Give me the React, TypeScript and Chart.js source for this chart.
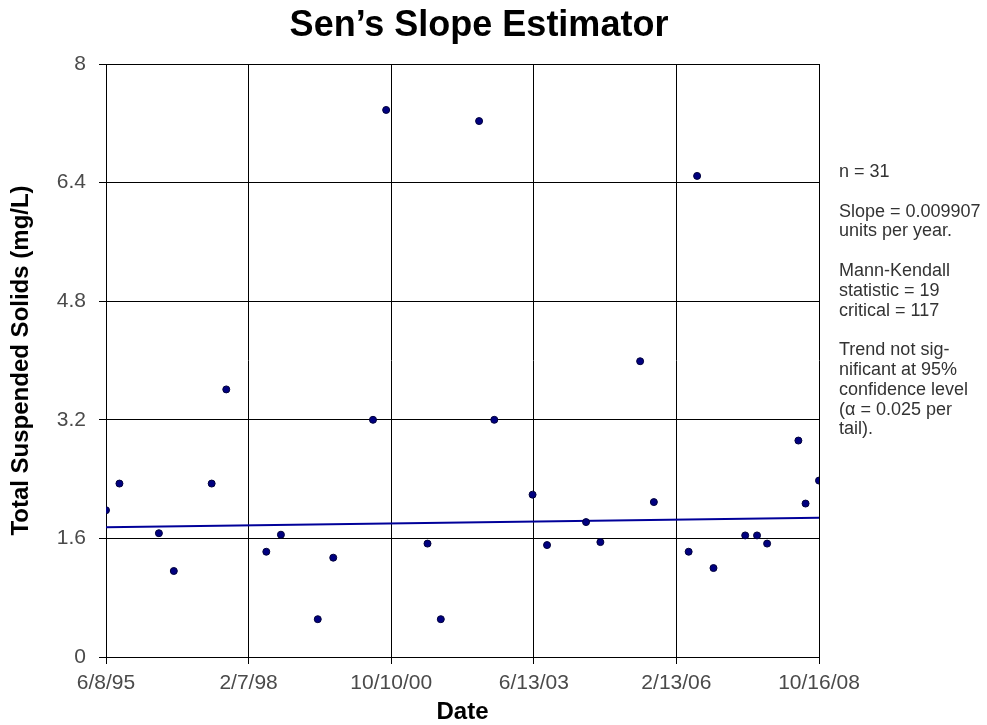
import React, { useEffect, useRef } from "react";
import { Chart, registerables } from "chart.js";

Chart.register(...registerables);

// ---- data ----
const sampleDates = [
  "1995-06-08", "1995-09-08", "1996-06-04", "1996-09-14", "1997-05-31", "1997-09-08",
  "1998-06-09", "1998-09-17", "1999-05-27", "1999-09-10", "2000-06-08", "2000-09-06",
  "2001-06-16", "2001-09-15", "2002-06-04", "2002-09-16", "2003-06-05", "2003-09-12",
  "2004-06-05", "2004-09-11", "2005-06-10", "2005-09-12", "2006-05-08", "2006-07-05",
  "2006-10-25", "2007-05-30", "2007-08-19", "2007-10-27", "2008-05-28", "2008-07-16",
  "2008-10-16",
];
const tssValues = [
  1.98, 2.34, 1.67, 1.16, 2.34, 3.61,
  1.42, 1.65, 0.51, 1.34, 3.2, 7.38,
  1.53, 0.51, 7.23, 3.2, 2.19, 1.51,
  1.82, 1.55, 3.99, 2.09, 1.42, 6.49,
  1.2, 1.64, 1.64, 1.53, 2.92, 2.07,
  2.38,
];
const trendDates = ["1995-06-08", "2008-10-16"];
const trendValues = [1.75, 1.88];

const xAxisMin = "1995-06-08";
const xAxisMax = "2008-10-16";
const xTickLabels = ["6/8/95", "2/7/98", "10/10/00", "6/13/03", "2/13/06", "10/16/08"];
const yTickValues = [0, 1.6, 3.2, 4.8, 6.4, 8];
const yTickLabels = ["0", "1.6", "3.2", "4.8", "6.4", "8"];

const chartTitle = "Sen\u2019s Slope Estimator";
const xTitle = "Date";
const yTitle = "Total Suspended Solids (mg/L)";
const statsLines = [
  "n = 31",
  "",
  "Slope = 0.009907",
  "units per year.",
  "",
  "Mann-Kendall",
  "statistic = 19",
  "critical = 117",
  "",
  "Trend not sig-",
  "nificant at 95%",
  "confidence level",
  "(\u03b1 = 0.025 per",
  "tail).",
];

const FONT = "'Liberation Sans', Arial, Helvetica, sans-serif";

const toMs = (s: string) => {
  const [y, m, d] = s.split("-").map(Number);
  return Date.UTC(y, m - 1, d);
};

const textPlugin = {
  id: "textPlugin",
  afterDraw(chart: any) {
    const ctx = chart.ctx;
    ctx.save();
    ctx.fillStyle = "#000";
    ctx.font = `bold 36px ${FONT}`;
    ctx.textAlign = "center";
    ctx.textBaseline = "alphabetic";
    ctx.fillText(chartTitle, 479, 36);

    ctx.fillStyle = "#333";
    ctx.font = `18px ${FONT}`;
    ctx.textAlign = "left";
    ctx.textBaseline = "middle";
    statsLines.forEach((line, i) => {
      if (line) ctx.fillText(line, 839, 172 + i * 19.8);
    });
    ctx.restore();
  },
};

export default function App() {
  const canvasRef = useRef<HTMLCanvasElement | null>(null);

  useEffect(() => {
    if (!canvasRef.current) return;
    const xmin = toMs(xAxisMin);
    const xmax = toMs(xAxisMax);
    const chart = new Chart(canvasRef.current, {
      type: "scatter",
      data: {
        datasets: [
          {
            type: "scatter",
            data: sampleDates.map((d, i) => ({ x: toMs(d), y: tssValues[i] })),
            pointRadius: 3.5,
            pointBackgroundColor: "#000080",
            pointBorderColor: "#00003a",
            pointBorderWidth: 1,
            order: 0,
          },
          {
            type: "line",
            data: trendDates.map((d, i) => ({ x: toMs(d), y: trendValues[i] })),
            borderColor: "#000099",
            borderWidth: 2,
            pointRadius: 0,
            fill: false,
            order: 1,
          },
        ] as any,
      },
      options: {
        responsive: false,
        animation: false,
        layout: { padding: { top: 64, right: 168, left: 0, bottom: 0 } },
        plugins: {
          legend: { display: false },
          tooltip: { enabled: false },
          title: { display: false },
        },
        scales: {
          x: {
            type: "linear",
            min: xmin,
            max: xmax,
            afterBuildTicks: (s: any) => {
              const n = xTickLabels.length;
              s.ticks = xTickLabels.map((_, i) => ({ value: xmin + (i * (xmax - xmin)) / (n - 1) }));
            },
            afterFit: (s: any) => {
              s.height = 68;
            },
            ticks: {
              callback: (_v: any, i: number) => xTickLabels[i],
              color: "#4a4a4a",
              font: { size: 21, family: FONT },
              padding: 7,
              maxRotation: 0,
              autoSkip: false,
            },
            grid: { color: "#000", lineWidth: 1, tickLength: 7, drawTicks: true },
            border: { color: "#000", width: 1 },
            title: {
              display: true,
              text: xTitle,
              color: "#000",
              font: { size: 24, weight: "bold", family: FONT },
              padding: { top: 0, bottom: -2 },
            },
          },
          y: {
            type: "linear",
            min: 0,
            max: 8,
            afterBuildTicks: (s: any) => {
              s.ticks = yTickValues.map((v) => ({ value: v }));
            },
            afterFit: (s: any) => {
              s.width = 106;
            },
            ticks: {
              callback: (_v: any, i: number) => yTickLabels[i],
              color: "#4a4a4a",
              font: { size: 21, family: FONT },
              padding: 13,
              autoSkip: false,
            },
            grid: { color: "#000", lineWidth: 1, tickLength: 7, drawTicks: true },
            border: { color: "#000", width: 1 },
            title: {
              display: true,
              text: yTitle,
              color: "#000",
              font: { size: 24, weight: "bold", family: FONT },
              padding: { top: 7, bottom: 0 },
            },
          },
        },
      } as any,
      plugins: [textPlugin],
    });
    return () => chart.destroy();
  }, []);

  return (
    <div style={{ position: "fixed", left: 0, top: 0, width: 987, height: 725, background: "#fff" }}>
      <canvas ref={canvasRef} width={987} height={725} style={{ display: "block" }} />
    </div>
  );
}
